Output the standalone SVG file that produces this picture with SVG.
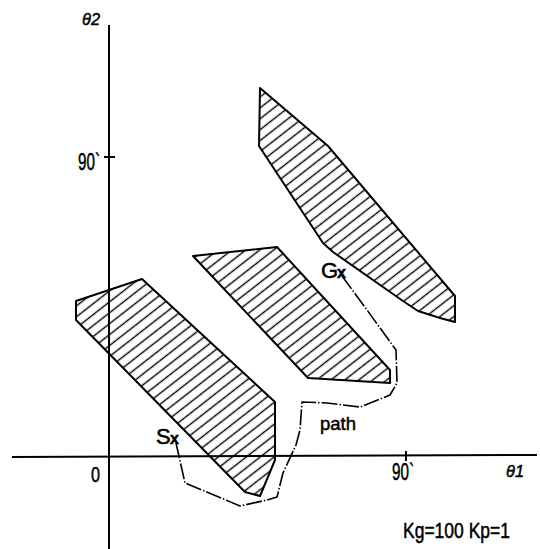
<svg xmlns="http://www.w3.org/2000/svg" width="540" height="549" viewBox="0 0 540 549">
<defs>
<pattern id="hatch" patternUnits="userSpaceOnUse" width="12" height="8.6" patternTransform="rotate(-38)">
<line x1="0" y1="4.3" x2="12" y2="4.3" stroke="#000" stroke-width="1.4"/>
</pattern>
<style>
.obst{fill:url(#hatch);stroke:#000;stroke-width:2;stroke-linejoin:round}
.axis{stroke:#000;stroke-width:2;fill:none}
.path{stroke:#000;stroke-width:1.6;fill:none;stroke-dasharray:16 2 1.5 2;stroke-linejoin:round}
.lbl{font-family:"Liberation Sans",Arial,sans-serif;fill:#000;stroke:#000;stroke-width:0.5}
</style>
</defs>
<rect width="540" height="549" fill="#fff"/>
<g id="axes">
<line class="axis" x1="109" y1="25" x2="109" y2="549"/>
<line class="axis" x1="12" y1="457" x2="537" y2="455"/>
<line class="axis" x1="104" y1="157" x2="115" y2="157"/>
<line class="axis" x1="406" y1="451" x2="406" y2="461"/>
</g>
<g id="obstacle-top">
<polygon class="obst" points="260,88 328,146 455,296 455,322 440,318 418,311 403,301 333,252 323,243 259,146"/>
</g>
<g id="obstacle-middle">
<polygon class="obst" points="193,256 277,247 390,370 390,383 308,378"/>
</g>
<g id="obstacle-left">
<polygon class="obst" points="76,301 142,279 275,402 275,460 260,496 245,492 76,320"/>
</g>
<g id="connectors">
<polyline class="path" points="342,276 367,310 396,350 397,383 390,395 360,407 327,403 302,402 300,430 296,445 283,473 277,497 267,500 240,506 202,490 185,483 176,443"/>
</g>
<g id="labels">
<text class="lbl" x="82" y="25" font-size="17" font-style="italic" textLength="18" lengthAdjust="spacingAndGlyphs">θ2</text>
<text class="lbl" x="78" y="170" font-size="24" textLength="22" lengthAdjust="spacingAndGlyphs">90`</text>
<text class="lbl" x="91" y="482" font-size="22" textLength="9" lengthAdjust="spacingAndGlyphs">0</text>
<text class="lbl" x="392" y="480" font-size="24" textLength="22" lengthAdjust="spacingAndGlyphs">90`</text>
<text class="lbl" x="506" y="477" font-size="17" font-style="italic" textLength="18" lengthAdjust="spacingAndGlyphs">θ1</text>
<text class="lbl" x="403" y="538" font-size="22" textLength="107" lengthAdjust="spacingAndGlyphs">Kg=100 Kp=1</text>
<text class="lbl" x="156" y="444" font-size="22">S<tspan x="170" font-size="16" font-weight="bold">x</tspan></text>
<text class="lbl" x="321" y="278" font-size="22">G<tspan x="337" font-size="16" font-weight="bold">x</tspan></text>
<text class="lbl" x="320" y="430" font-size="19" textLength="36" lengthAdjust="spacingAndGlyphs">path</text>
</g>
</svg>
